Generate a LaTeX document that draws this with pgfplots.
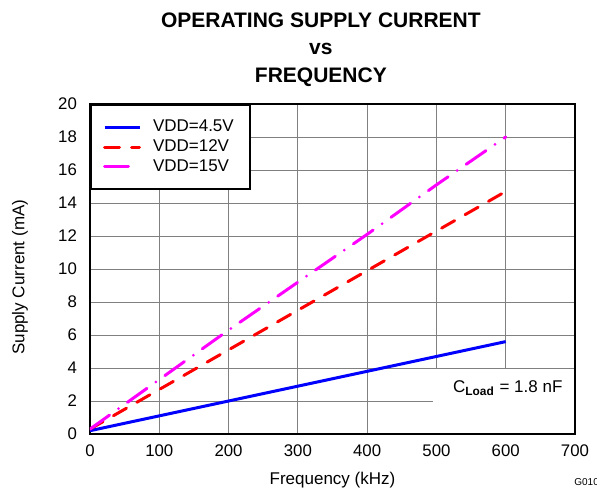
\documentclass[border=0pt]{standalone}
\usepackage{fontspec}
\setmainfont{Liberation Sans}
\usepackage{pgfplots}
\pgfplotsset{compat=1.18}
\usetikzlibrary{calc}
\definecolor{mag}{RGB}{255,0,255}
\definecolor{myred}{RGB}{255,0,0}
\definecolor{myblue}{RGB}{0,0,255}
\begin{document}
\begin{tikzpicture}
\begin{axis}[
  name=ax,
  scale only axis, width=242.5pt, height=165pt,
  xmin=0, xmax=700, ymin=0, ymax=20,
  xtick={0,100,...,700}, ytick={0,2,...,20},
  grid=major, major grid style={draw=black!50, line width=0.5pt},
  axis line style={line width=1pt},
  major tick length=0pt,
  /pgf/number format/assume math mode=true,
  ticklabel style={font=\fontsize{8.4}{9}\selectfont},
  yticklabel style={xshift=-3pt},
  xticklabel style={yshift=-2pt},
  xlabel={Frequency (kHz)},
  label style={font=\fontsize{8.5}{10}\selectfont},
  xlabel style={yshift=-0.5pt},
  legend style={at={(0,1)}, anchor=north west, draw=black, line width=1pt,
    font=\fontsize{8.5}{10}\selectfont, inner xsep=6pt, inner ysep=5.5pt, row sep=-1.5pt,
    cells={anchor=west},
    /tikz/every odd column/.append style={column sep=4pt}},
  legend image code/.code={\draw[#1] (0pt,0pt) -- (17.5pt,0pt);},
]
\addplot[myblue, line width=1.5pt] coordinates {(0,0.2) (100,1.1) (200,2.0) (300,2.9) (400,3.8) (500,4.7) (600,5.6)};
\addlegendentry{VDD=4.5V}
\addplot[myred, line width=1.5pt, line cap=round, dash pattern=on 7.5pt off 6pt] coordinates {(0,0.3) (100,2.7) (200,5.1) (300,7.5) (400,9.9) (500,12.3) (600,14.7)};
\addlegendentry{VDD=12V}
\addplot[mag, line width=1.5pt, line cap=round, dash pattern=on 12pt off 5.5pt on 0pt off 5.5pt] coordinates {(0,0.3) (100,3.3) (200,6.3) (300,9.2) (400,12.1) (500,15.1) (600,18.0)};
\addlegendentry{VDD=15V}
\fill[white] (axis cs:495,0.07) rectangle (axis cs:698.5,3.96);
\node[font=\fontsize{8.5}{10}\selectfont] at (axis cs:603,2.8) {C\textsubscript{\textbf{Load}} = 1.8 nF};
\end{axis}
\path let \p1=(ax.south west), \p2=(ax.north east) in
  node[anchor=north, inner sep=0pt, align=center, font=\bfseries\fontsize{10.5}{13.75}\selectfont]
    at ({\x1+0.476*(\x2-\x1)},{\y2+46pt}) {OPERATING SUPPLY CURRENT\\vs\\FREQUENCY}
  node[rotate=90, font=\fontsize{8.5}{10}\selectfont]
    at ({\x1-35pt},{\y1+0.475*(\y2-\y1)}) {Supply Current (mA)}
  node[anchor=west, inner sep=0pt, font=\fontsize{5}{6}\selectfont]
    at ({\x2-0.5pt},{\y1-0.145*(\y2-\y1)}) {G010};
\pgfresetboundingbox
\path let \p1=(ax.south west), \p2=(ax.north east) in
  (\x1-45pt,\y1-27.5pt) rectangle (\x2+11pt,\y2+52pt);
\end{tikzpicture}
\end{document}
